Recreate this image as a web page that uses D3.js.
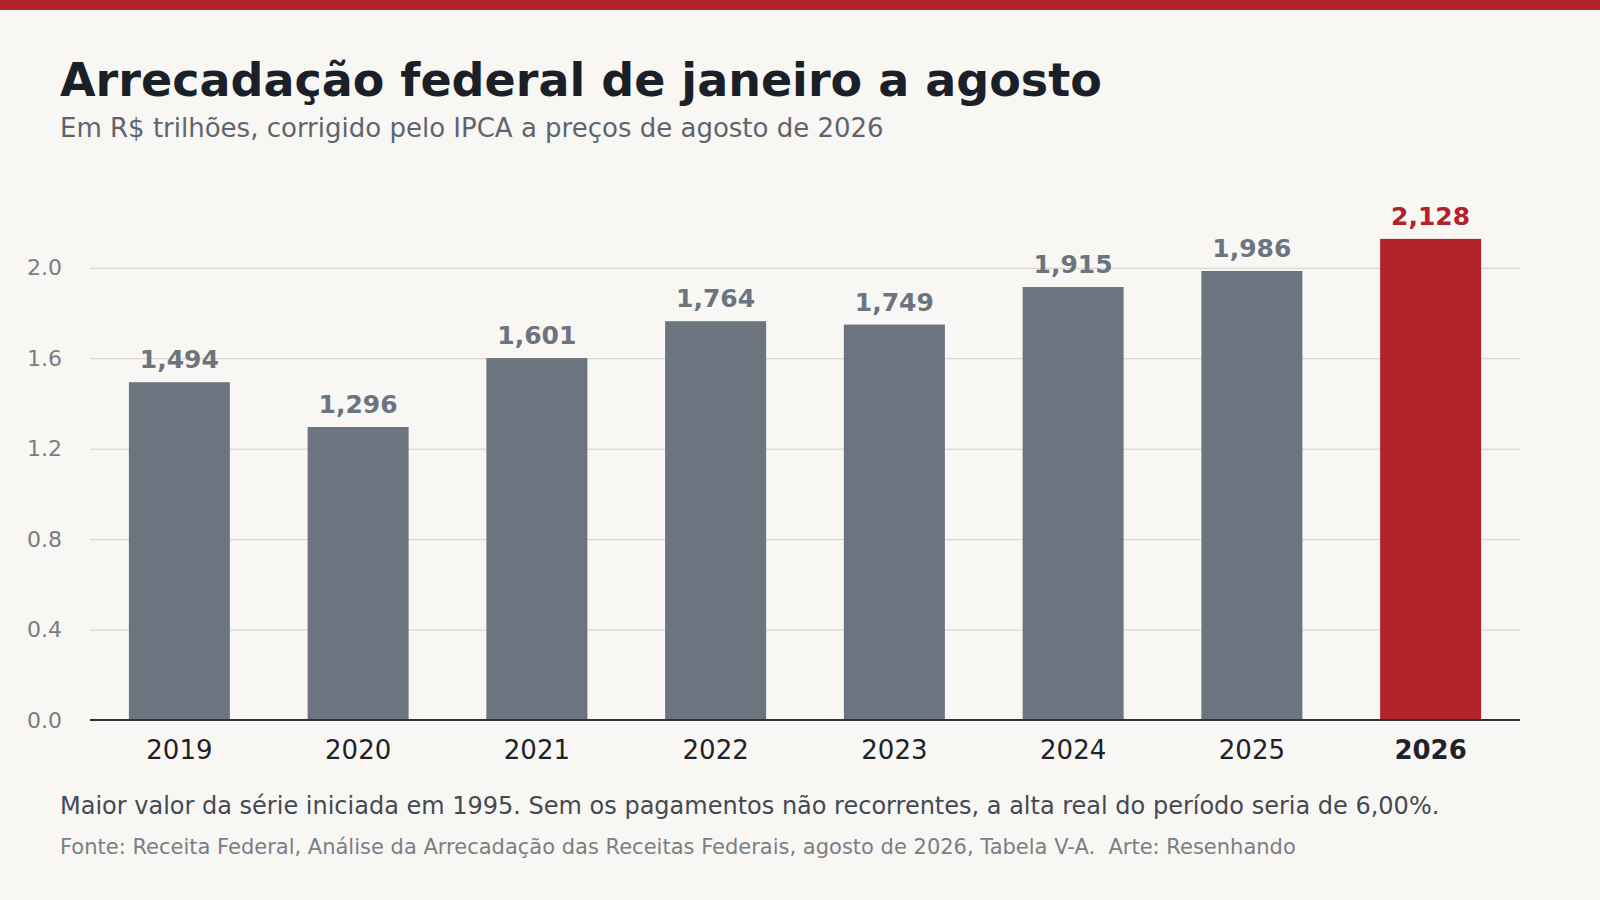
<!DOCTYPE html>
<html>
<head>
<meta charset="utf-8">
<script src="https://cdn.jsdelivr.net/npm/d3@7"></script>
<style>
  html, body { margin: 0; padding: 0; background: #f8f7f4; }
  svg { display: block; font-family: "DejaVu Sans", sans-serif; }
</style>
</head>
<body>
<svg id="chart"></svg>
<script>
// Data
const years = ["2019", "2020", "2021", "2022", "2023", "2024", "2025", "2026"];
const values = [1.494, 1.296, 1.601, 1.764, 1.749, 1.915, 1.986, 2.128];
const yTicks = [0.0, 0.4, 0.8, 1.2, 1.6, 2.0];
const highlightYear = "2026";

const width = 1600;
const height = 900;
const margin = { top: 200, right: 80, bottom: 180, left: 90 };

const grey = "#6c7480";
const red = "#b1222b";

const svg = d3.select("#chart")
    .attr("width", width)
    .attr("height", height);

svg.append("rect")
    .attr("width", width)
    .attr("height", height)
    .attr("fill", "#f8f7f4");

// red strip along the top
svg.append("rect")
    .attr("width", width)
    .attr("height", 10)
    .attr("fill", red);

// Titles
svg.append("text")
    .attr("x", 60)
    .attr("y", 96)
    .attr("font-size", 46)
    .attr("font-weight", "bold")
    .attr("fill", "#1b1f27")
    .text("Arrecadação federal de janeiro a agosto");

svg.append("text")
    .attr("x", 60)
    .attr("y", 137)
    .attr("font-size", 26)
    .attr("fill", "#5f646d")
    .text("Em R$ trilhões, corrigido pelo IPCA a preços de agosto de 2026");

const x = d3.scaleBand()
    .domain(years)
    .range([margin.left, width - margin.right])
    .paddingInner(0.435)
    .paddingOuter(0.2175);

const y = d3.scaleLinear()
    .domain([0, 2.3])
    .range([height - margin.bottom, margin.top]);

// grid lines
const grid = svg.append("g")
    .attr("transform", `translate(${margin.left},0)`)
    .call(d3.axisLeft(y)
        .tickValues(yTicks)
        .tickSize(-(width - margin.left - margin.right))
        .tickFormat(d3.format(".1f"))
        .tickPadding(28));

grid.select(".domain").remove();
grid.selectAll(".tick line")
    .attr("stroke", "#cfcfcc")
    .attr("stroke-width", 1);
grid.selectAll(".tick text")
    .attr("font-family", "DejaVu Sans, sans-serif")
    .attr("font-size", 22)
    .attr("fill", "#7a7d83");

// bars
svg.append("g")
    .selectAll("rect")
    .data(years)
    .join("rect")
    .attr("x", d => x(d))
    .attr("width", x.bandwidth())
    .attr("y", (d, i) => y(values[i]))
    .attr("height", (d, i) => y(0) - y(values[i]))
    .attr("fill", d => d === highlightYear ? red : grey);

// value labels
svg.append("g")
    .selectAll("text")
    .data(years)
    .join("text")
    .attr("x", d => x(d) + x.bandwidth() / 2)
    .attr("y", (d, i) => y(values[i]) - 14)
    .attr("text-anchor", "middle")
    .attr("font-size", 25)
    .attr("font-weight", "bold")
    .attr("fill", d => d === highlightYear ? red : grey)
    .text((d, i) => d3.format(",.3f")(values[i]).replace(".", ","));

// baseline
svg.append("line")
    .attr("x1", margin.left)
    .attr("x2", width - margin.right)
    .attr("y1", y(0))
    .attr("y2", y(0))
    .attr("stroke", "#2f3238")
    .attr("stroke-width", 2);

// x axis labels
const xAxis = svg.append("g")
    .attr("transform", `translate(0,${y(0)})`)
    .call(d3.axisBottom(x).tickSize(0).tickPadding(21));

xAxis.select(".domain").remove();
xAxis.selectAll(".tick text")
    .attr("font-family", "DejaVu Sans, sans-serif")
    .attr("font-size", 26)
    .attr("fill", "#1f2229")
    .attr("font-weight", d => d === highlightYear ? "bold" : "normal");

// notes
svg.append("text")
    .attr("x", 60)
    .attr("y", 814)
    .attr("font-size", 24)
    .attr("fill", "#444952")
    .text("Maior valor da série iniciada em 1995. Sem os pagamentos não recorrentes, a alta real do período seria de 6,00%.");

svg.append("text")
    .attr("x", 60)
    .attr("y", 854)
    .attr("font-size", 21)
    .attr("fill", "#7a7e86")
    .style("white-space", "pre")
    .text("Fonte: Receita Federal, Análise da Arrecadação das Receitas Federais, agosto de 2026, Tabela V-A.  Arte: Resenhando");
</script>
</body>
</html>
